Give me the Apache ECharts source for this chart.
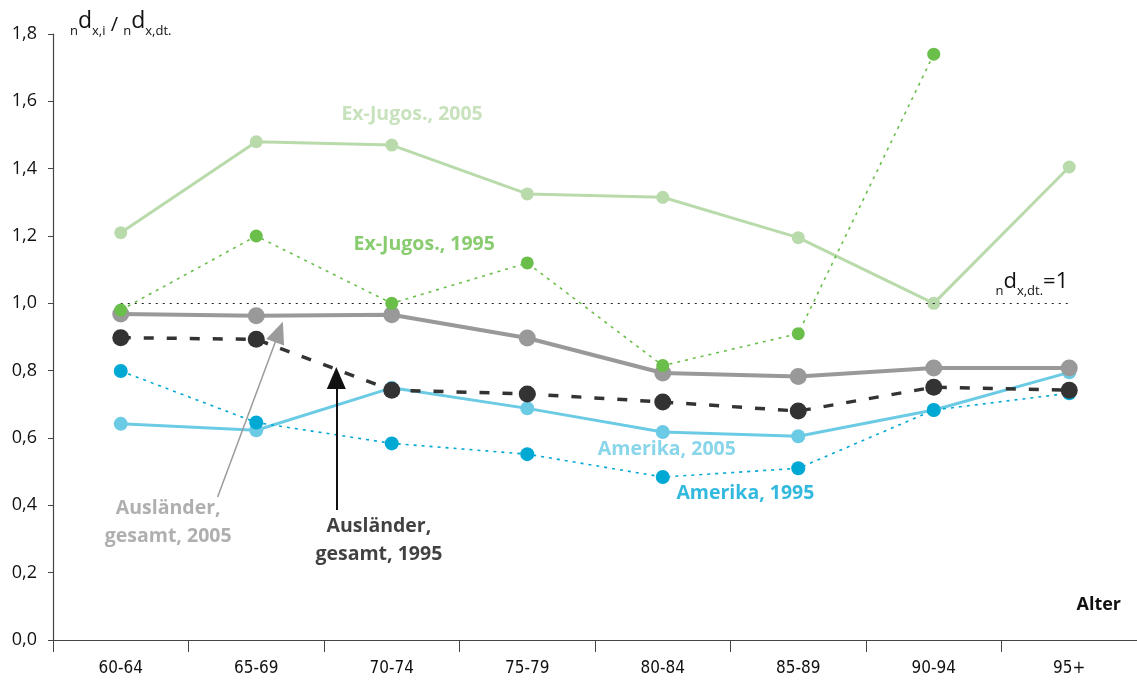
<!DOCTYPE html>
<html>
<head>
<meta charset="utf-8">
<script src="https://cdn.jsdelivr.net/npm/echarts@6/dist/echarts.min.js"></script>
<style>
html,body{margin:0;padding:0;background:#fff;}
#chart{width:1137px;height:686px;}
</style>
</head>
<body>
<div id="chart"></div>
<script>
const categories = ['60-64', '65-69', '70-74', '75-79', '80-84', '85-89', '90-94', '95+'];
const exJugos2005 = [1.21, 1.48, 1.47, 1.325, 1.315, 1.195, 1.00, 1.405];
const exJugos1995 = [0.98, 1.20, 1.00, 1.12, 0.815, 0.91, 1.74, null];
const auslaender2005 = [0.968, 0.963, 0.966, 0.897, 0.793, 0.783, 0.808, 0.808];
const auslaender1995 = [0.898, 0.893, 0.742, 0.731, 0.707, 0.68, 0.751, 0.742];
const amerika2005 = [0.642, 0.623, 0.749, 0.688, 0.618, 0.605, 0.683, 0.795];
const amerika1995 = [0.799, 0.646, 0.584, 0.552, 0.484, 0.51, 0.683, 0.733];
const referenceValue = 1.0;

// Annotation placement in data coordinates (x: category index, y: value)
const annotations = [
  { text: 'Ex-Jugos., 2005', x: 2.15, y: 1.56, color: '#b9dbab' },
  { text: 'Ex-Jugos., 1995', x: 2.24, y: 1.175, color: '#6abf4b' },
  { text: 'Ausländer,\ngesamt, 2005', x: 0.35, y: 0.35, color: '#9b9b9b' },
  { text: 'Ausländer,\ngesamt, 1995', x: 1.905, y: 0.297, color: '#111111' },
  { text: 'Amerika, 2005', x: 4.03, y: 0.567, color: '#6ccbe4' },
  { text: 'Amerika, 1995', x: 4.61, y: 0.434, color: '#00a8d4' }
];
const arrows = [
  { from: [0.715, 0.425], to: [1.168, 0.915], color: '#9b9b9b', width: 1.5 },
  { from: [1.591, 0.386], to: [1.591, 0.778], color: '#111111', width: 2 }
];

const FONT = '"Open Sans", "Noto Sans", sans-serif';

function lineSeries(name, data, color, width, type, size, z) {
  return {
    name: name,
    type: 'line',
    data: data,
    xAxisIndex: 0,
    yAxisIndex: 0,
    symbol: 'circle',
    symbolSize: size,
    showSymbol: true,
    connectNulls: false,
    lineStyle: { color: color, width: width, type: type },
    itemStyle: { color: color },
    z: z
  };
}

const chart = echarts.init(document.getElementById('chart'), null, { renderer: 'canvas' });

const option = {
  animation: false,
  grid: { left: 53, right: -13, top: 34, bottom: 46, containLabel: false },
  xAxis: [
    {
      type: 'category',
      data: categories,
      boundaryGap: true,
      axisLine: { onZero: false, lineStyle: { color: '#444', width: 1.2 } },
      axisTick: { show: true, inside: false, length: 12, lineStyle: { color: '#444' } },
      axisLabel: { color: '#111', fontSize: 17, fontFamily: '"DejaVu Sans Condensed", "DejaVu Sans", sans-serif', margin: 20 },
      splitLine: { show: false }
    },
    {
      type: 'value',
      min: -0.5,
      max: 7.5,
      show: false,
      axisLine: { onZero: false },
      splitLine: { show: false }
    }
  ],
  yAxis: {
    type: 'value',
    min: 0,
    max: 1.8,
    interval: 0.2,
    axisLine: { show: true, onZero: false, lineStyle: { color: '#444', width: 1.2 } },
    axisTick: { show: true, length: 5, lineStyle: { color: '#444' } },
    axisLabel: {
      color: '#111', fontSize: 18, fontFamily: FONT, margin: 16,
      formatter: function (v) { return v.toFixed(1).replace('.', ','); }
    },
    splitLine: { show: false }
  },
  graphic: [
    {
      type: 'text',
      left: 70,
      top: 10,
      style: {
        text: '{s|n}{d|d}{s|x,i}{sl| / }{s|n}{d|d}{s|x,dt.}',
        rich: {
          s: { fontSize: 13, fontFamily: FONT, fill: '#111', verticalAlign: 'bottom' },
          d: { fontSize: 23, fontFamily: FONT, fill: '#111', verticalAlign: 'bottom', padding: [0, 0, 5, 0] },
          sl: { fontSize: 20, fontFamily: FONT, fill: '#111', verticalAlign: 'bottom', padding: [0, 0, 3, 0] }
        }
      }
    },
    {
      type: 'text',
      right: 16,
      top: 596,
      style: { text: 'Alter', fontSize: 18, fontWeight: 'bold', fontFamily: FONT, fill: '#111' }
    }
  ],
  series: [
    lineSeries('Ex-Jugos., 2005', exJugos2005, '#b9dbab', 3, 'solid', 13, 2),
    lineSeries('Amerika, 2005', amerika2005, '#6ccbe4', 3, 'solid', 14, 3),
    lineSeries('Amerika, 1995', amerika1995, '#00a8d4', 1.6, [3, 5], 14, 4),
    lineSeries('Ausländer, gesamt, 2005', auslaender2005, '#999999', 4, 'solid', 17, 5),
    lineSeries('Ausländer, gesamt, 1995', auslaender1995, '#333333', 3.5, [10, 13], 17, 6),
    lineSeries('Ex-Jugos., 1995', exJugos1995, '#6abf4b', 1.6, [3, 5], 13, 7),
    {
      name: 'annotations',
      type: 'scatter',
      xAxisIndex: 1,
      yAxisIndex: 0,
      symbolSize: 0,
      silent: true,
      z: 10,
      data: annotations.map(function (a) {
        return {
          value: [a.x, a.y],
          label: {
            show: true,
            position: 'inside',
            formatter: a.text,
            color: a.color,
            fontSize: 19.5,
            fontWeight: 'bold',
            fontFamily: FONT,
            lineHeight: 28,
            align: 'center',
            verticalAlign: 'middle'
          }
        };
      }),
      markLine: {
        silent: true,
        animation: false,
        data: [
          [
            { coord: [0, referenceValue], symbol: 'none',
              lineStyle: { color: '#222', width: 1.2, type: [2, 5] },
              label: {
                show: true,
                position: 'insideEndTop',
                distance: [1, 6],
                formatter: '{s|n}{d|d}{s|x,dt.}{d|=1}',
                rich: {
                  s: { fontSize: 13, fontFamily: FONT, color: '#111', verticalAlign: 'bottom' },
                  d: { fontSize: 22, fontFamily: FONT, color: '#111', verticalAlign: 'bottom', padding: [0, 0, 5, 0] }
                }
              }
            },
            { coord: [7, referenceValue], symbol: 'none' }
          ]
        ].concat(arrows.map(function (ar) {
          return [
            { coord: ar.from, symbol: 'none', lineStyle: { color: ar.color, width: ar.width, type: 'solid' }, label: { show: false } },
            { coord: ar.to, symbol: 'triangle', symbolSize: [19, 22] , itemStyle: { color: ar.color } }
          ];
        }))
      }
    }
  ]
};

chart.setOption(option);
</script>
</body>
</html>
